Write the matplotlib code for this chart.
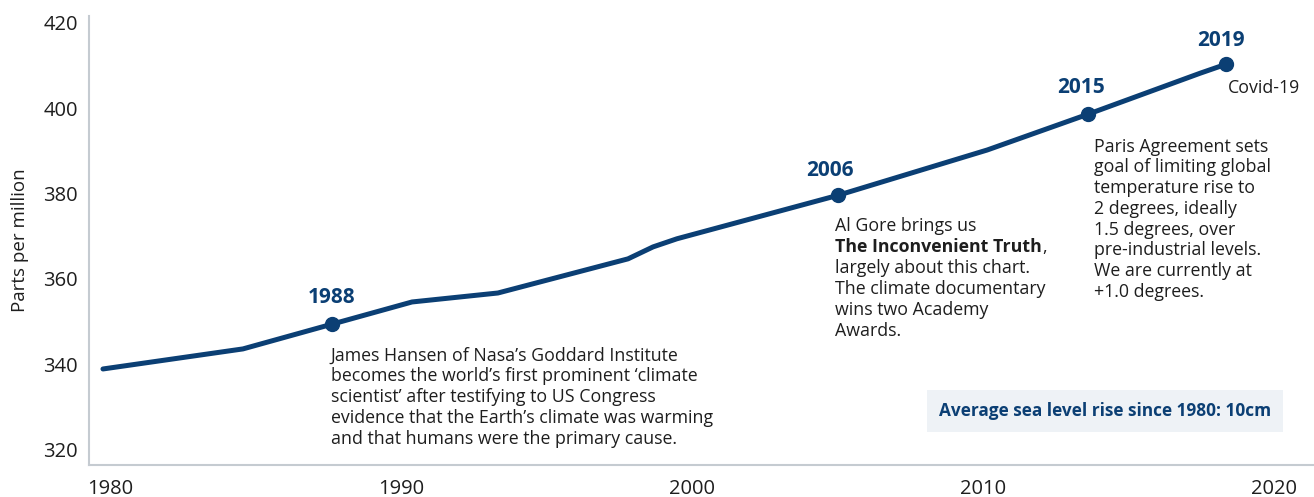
import matplotlib
matplotlib.use('Agg')
import matplotlib.pyplot as plt

# CO2 concentration
years = [1979.76, 1984.57, 1987.63, 1990.38, 1993.33, 1997.80, 1998.66,
         1999.48, 2005.02, 2010.14, 2013.61, 2017.46, 2018.35]
ppm = [338.9, 343.6, 349.4, 354.6, 356.7, 364.7, 367.5,
       369.4, 379.6, 390.2, 398.6, 408.2, 410.3]

event_x = [1987.63, 2005.02, 2013.61, 2018.35]
event_y = [349.4, 379.6, 398.6, 410.3]
event_labels = ['1988', '2006', '2015', '2019']

x_ticks = [1980, 1990, 2000, 2010, 2020]
y_ticks = [320, 340, 360, 380, 400, 420]

hansen = ["James Hansen of Nasa\u2019s Goddard Institute",
          "becomes the world\u2019s first prominent \u2018climate",
          "scientist\u2019 after testifying to US Congress",
          "evidence that the Earth\u2019s climate was warming",
          "and that humans were the primary cause."]
gore = ["Al Gore brings us",
        "The Inconvenient Truth",
        "largely about this chart.",
        "The climate documentary",
        "wins two Academy",
        "Awards."]
paris = ["Paris Agreement sets",
         "goal of limiting global",
         "temperature rise to",
         "2 degrees, ideally",
         "1.5 degrees, over",
         "pre-industrial levels.",
         "We are currently at",
         "+1.0 degrees."]

NAVY = '#0b3f74'
TEXT = '#1e1e1e'
SPINE = '#c5cbd1'
FONT = 'Open Sans'
BODY = 12.8

plt.rcParams['font.family'] = [FONT, 'DejaVu Sans']


def text_block(ax, xy, lines, dx, dy, bold_rows=(), step=15.1):
    arts = []
    for i, line in enumerate(lines):
        a = ax.annotate(line, xy=xy, xytext=(dx, dy - i * step),
                        textcoords='offset points', ha='left', va='center',
                        fontsize=BODY, color=TEXT,
                        fontweight='bold' if i in bold_rows else 'normal')
        arts.append(a)
    return arts


fig = plt.figure(figsize=(13.14, 4.97), dpi=100)
ax = fig.add_axes([89 / 1314, 32 / 497, 1225 / 1314, 449 / 497])

ax.plot(years, ppm, color=NAVY, lw=3.6, solid_capstyle='round',
        solid_joinstyle='round', zorder=3)
ax.plot(event_x, event_y, 'o', color=NAVY, ms=10, zorder=4)

label_off = [(0, 19), (-6, 18), (-5, 19), (-4, 17)]
for x, y, lab, off in zip(event_x, event_y, event_labels, label_off):
    ax.annotate(lab, xy=(x, y), xytext=off, textcoords='offset points',
                ha='center', va='center', fontsize=15, fontweight='bold',
                color=NAVY)

text_block(ax, (event_x[0], event_y[0]), hansen, -1, -22.5)
g = text_block(ax, (event_x[1], event_y[1]), gore, -2, -22, bold_rows=(1,))
ax.annotate(',', xy=(1, 0), xycoords=g[1], xytext=(0, 0),
            textcoords='offset points', ha='left', va='bottom',
            fontsize=BODY, color=TEXT)
text_block(ax, (event_x[2], event_y[2]), paris, 4, -23.5, step=14.9)
ax.annotate('Covid-19', xy=(event_x[3], event_y[3]), xytext=(1, -17),
            textcoords='offset points', ha='left', va='center',
            fontsize=BODY, color=TEXT)

ax.text(0.8295, 0.120, 'Average sea level rise since 1980: 10cm',
        transform=ax.transAxes, ha='center', va='center', fontsize=12.4,
        fontweight='bold', color=NAVY,
        bbox=dict(boxstyle='square,pad=0.7', fc='#eef2f6', ec='none'))

ax.set_xlim(1979.28, 2021.37)
ax.set_ylim(316.4, 421.6)
ax.set_xticks(x_ticks)
ax.set_yticks(y_ticks)
ax.tick_params(axis='both', length=0, colors=TEXT)
ax.tick_params(axis='x', pad=10, labelsize=14.5)
ax.tick_params(axis='y', pad=8, labelsize=14.5)
for lab in ax.get_xticklabels():
    lab.set_family(['Liberation Sans Narrow', FONT])

ax.set_ylabel('Parts per million', fontsize=13.5, color=TEXT, labelpad=10)

ax.spines['top'].set_visible(False)
ax.spines['right'].set_visible(False)
for s in ('left', 'bottom'):
    ax.spines[s].set_color(SPINE)
    ax.spines[s].set_linewidth(1.5)

fig.savefig('out.png', dpi=100)
